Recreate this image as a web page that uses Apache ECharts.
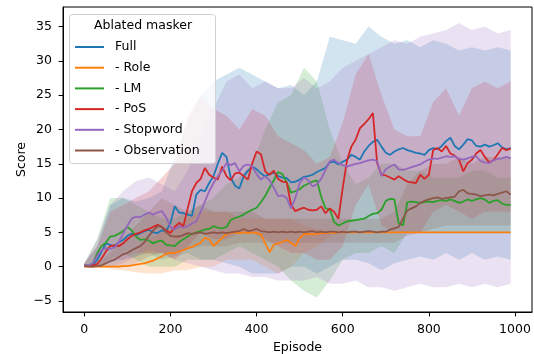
<!DOCTYPE html>
<html>
<head>
<meta charset="utf-8">
<script src="https://cdn.jsdelivr.net/npm/echarts@6/dist/echarts.min.js"></script>
<style>
  html, body { margin: 0; padding: 0; background: #fff; }
  #chart { width: 534px; height: 354px; }
</style>
</head>
<body>
<div id="chart"></div>
<script>
var names = ['Full', '- Role', '- LM', '- PoS', '- Stopword', '- Observation'];
var colors = ['#1f77b4', '#ff7f0e', '#2ca02c', '#d62728', '#9467bd', '#8c564b'];

// mean curves, one value every 10 episodes (0 .. 990)
var full = [0.2,0.1,0.3,1.0,2.2,3.4,3.2,3.0,3.6,3.9, 4.5,4.8,4.6,4.9,5.2,5.4,5.0,4.9,5.3,5.2,
  6.4,8.8,7.9,7.8,7.6,7.4,10.5,11.2,11.0,12.2, 13.2,15.0,16.6,16.0,13.0,11.8,11.4,13.2,14.0,14.6,
  14.2,13.6,13.2,13.5,13.7,13.2,13.0,12.9,12.3,12.4, 12.7,13.1,13.2,13.4,13.8,14.1,14.4,15.2,15.3,14.9,
  15.3,15.6,16.3,16.0,15.6,16.8,17.6,18.2,18.5,17.5, 16.6,16.3,16.8,17.1,17.3,17.0,16.8,16.6,16.5,16.3,
  17.0,17.3,17.1,17.6,18.3,18.8,17.6,17.1,17.8,18.6, 18.4,17.6,17.5,17.8,17.5,17.7,18.0,17.4,17.1,17.3];
var role = [0,0,0,0,0,0,0,0,0,0.1, 0.1,0.2,0.3,0.4,0.5,0.7,0.9,1.2,1.5,1.9,
  2.0,2.0,2.2,2.4,2.7,2.9,3.2,3.5,4.2,4.0, 3.0,3.6,4.2,4.8,4.9,5.0,4.9,5.0,4.9,5.0,
  4.9,4.7,3.4,2.1,3.2,3.4,3.6,3.9,3.5,3.0, 4.2,4.7,4.8,4.7,4.8,4.9,4.9,5.0,4.9,5.0,
  5,5,5,5,5,5,5,5,5,5, 5,5,5,5,5,5,5,5,5,5,
  5,5,5,5,5,5,5,5,5,5, 5,5,5,5,5,5,5,5,5,5];
var lm = [0.2,0.2,0.5,2.0,3.0,3.5,4.4,4.5,4.8,5.2, 5.8,5.3,4.4,3.9,4.0,3.8,3.4,3.7,3.8,3.2,
  3.1,3.0,3.6,4.0,4.4,4.8,5.0,5.2,5.4,5.5, 5.9,5.7,5.6,5.8,6.8,7.1,7.3,7.6,8.0,8.3,
  8.6,9.4,10.3,11.5,12.6,13.8,13.5,12.3,10.8,11.0, 11.3,11.8,12.1,12.4,12.6,10.2,8.5,8.4,6.5,6.0,
  6.3,6.6,6.7,6.8,6.9,7.0,7.4,7.7,7.8,8.3, 9.6,9.9,9.8,6.3,6.0,9.4,9.5,9.4,9.3,9.4,
  9.5,9.4,9.6,9.7,9.6,9.8,9.6,9.3,9.5,9.8, 9.6,9.8,10.0,9.8,9.3,9.6,9.7,9.2,9.0,9.0];
var pos = [0.2,0.1,0.2,0.4,1.2,2.2,3.0,3.1,3.0,3.4, 4.0,4.5,4.8,5.0,5.3,5.5,5.8,6.1,5.8,5.3,
  4.9,5.8,6.4,5.9,8.5,11.0,12.2,12.8,14.4,13.4, 13.0,12.7,14.6,13.2,12.6,13.6,13.7,13.2,12.7,15.1,
  16.8,16.4,13.9,13.4,14.0,12.8,12.4,12.3,9.0,8.1, 8.4,8.6,8.3,8.2,8.3,8.8,7.8,8.5,8.0,7.0,
  11.5,15.5,17.5,18.5,20.2,20.8,21.5,22.4,15.1,13.4, 13.3,13.0,12.7,13.2,12.8,12.4,12.3,12.2,13.4,12.8,
  13.4,17.0,17.3,16.8,17.6,16.5,16.2,15.6,13.9,15.1, 15.6,16.5,17.0,16.0,15.2,15.5,16.4,17.3,17.0,17.2];
var stopword = [0.2,0.2,0.5,1.6,2.4,2.7,2.6,2.8,3.6,4.8, 6.0,7.0,7.3,7.2,7.6,7.9,7.6,7.9,8.1,7.2,
  5.8,5.4,5.9,5.7,5.9,6.3,6.6,8.0,9.5,11.0, 12.2,13.2,14.0,15.1,14.8,15.1,13.9,14.7,14.9,14.6,
  13.5,12.7,13.2,12.6,11.5,10.3,10.4,10.0,8.5,10.0, 12.2,13.0,12.6,11.7,12.0,12.8,14.1,15.4,15.6,15.1,
  14.8,14.6,14.8,15.0,15.1,15.3,15.5,15.6,15.4,13.2, 14.2,14.6,14.9,14.2,14.1,14.3,14.5,14.7,14.9,15.3,
  15.6,15.8,15.7,15.9,16.1,16.0,16.1,15.7,15.6,15.8, 16.0,16.1,15.4,15.2,15.1,15.5,15.7,15.8,16.0,15.8];
var observation = [0.1,0,0,0.1,0.2,0.5,0.8,1.0,1.4,1.8, 2.0,2.4,2.7,3.0,3.6,4.5,5.3,5.9,5.8,5.0,
  4.5,4.4,4.4,4.6,4.9,4.8,4.9,5.0,4.8,4.9, 5.0,4.9,5.0,4.9,5.0,5.1,5.2,5.5,5.2,5.3,
  5.5,5.2,5.1,5.0,5.1,5.0,5.1,5.0,5.1,5.0, 5.1,5.0,5.1,5.2,5.0,5.1,5.0,5.1,5.1,5.0,
  5.1,5.0,5.1,5.1,5.0,5.1,5.2,5.1,5.0,5.1, 5.1,5.4,5.6,5.8,7.0,8.2,8.5,8.8,9.3,9.6,
  9.8,10.0,10.1,9.9,10.0,10.1,10.2,11.0,11.2,10.7, 10.6,10.5,10.3,10.4,10.5,10.4,10.6,10.8,11.0,10.5];

// spread bands, one value every 30 episodes (0 .. 990)
var fullLo = [0,0,0.5,1,1.5,2,1,1.5,2,1,1,0.5,0,-1,-1,-1,0,0,-1,0,1,1,0.5,-0.5,0.5,1,1.5,1,2,1,2,1,1.5,1];
var fullHi = [0.5,3,9,10,9.5,10,11,16,21,25,27,28,29,28,27,26,26.5,25,27,33.5,33,32.5,35,33.5,32.5,33,32,33,32.5,31.5,32,31.5,32,31.5];
var roleLo = [0,0,-0.3,-0.5,-0.8,-1,-1,-0.5,-0.5,0,0,1,1,1,0,-1,0,2,3,4.5,5,5,5,5,5,5,5,5,5,5,5,5,5,5];
var roleHi = [0.2,0.3,0.5,1,2,4,5,6,7,8,8,8,7,7,7,7,7,6,5.5,5.2,5,5,5,5,5,5,5,5,5,5,5,5,5,5];
var lmLo = [0,0,1,2,1,0,0,0,1,1,1,2,3,2,1,0,-2,-3.5,-4.5,-2,1,2,2,3,2,5,5,5,5,5,5,5,5,5];
var lmHi = [0.5,4,10,10,9,8,7,7,8,9,10,12,13,15,20,24,25,29,27,20,15,12,13,15,15,14,14,13,13,13,14,14,13,13];
var posLo = [0,0,1,1,2,2,2,1,3,5,4,4,5,5,4,3,2,2,1,1,3,9,12,6,5,5,5,8,9,8,7,8,8,8];
var posHi = [0.5,3,8,9,10,11,13,15,22,25,23,22,20,23,22,19,18,17,15,16,21,28,31,25,20,19,19,24,26,22,26,27,26,27];
var stopLo = [0,0,0,0.5,1.5,2.5,2,1,0.5,0,-0.5,-1,-1,-1.5,-1.5,-2,-2,-2,-1.5,-2.5,-2.5,-2,-3,-3,-3.5,-3,-2.5,-3,-3,-2.5,-3,-2.5,-3,-2.5];
var stopHi = [0.5,4,9,11,12.5,13,12,11,14,19,23,27,28,26,27,26,26,27.5,26,27,29,30,31,32,33,32.5,33.5,34,34.5,35.5,34.5,35,34,34.5];
var obsLo = [0,0,0,0,0.5,1.5,2,2,2.5,3,3,3,3.5,3.5,3.5,3.5,3.5,3.5,3.5,3.5,3.5,3.5,3.5,3.5,3.5,4.5,5,5.5,6,6,6,6,6,6];
var obsHi = [0.3,0.5,2,4,6,8,10,9,8,9,8,8,8,8,7,7,7,7,7,7,7,7,7,7,8,12,14,15,15,16,15,16,16,16];

var xTicks = [0, 200, 400, 600, 800, 1000];
var yTicks = [-5, 0, 5, 10, 15, 20, 25, 30, 35];

var means = [full, role, lm, pos, stopword, observation];
var bands = [[fullLo, fullHi], [roleLo, roleHi], [lmLo, lmHi], [posLo, posHi], [stopLo, stopHi], [obsLo, obsHi]];

function epochs(step, n) {
  var e = [];
  for (var i = 0; i < n; i++) e.push(i * step);
  return e;
}
var lineEp = epochs(10, 100);
var bandEp = epochs(30, 34);

var myChart = echarts.init(document.getElementById('chart'));
var font = 'DejaVu Sans';
var series = [];

bands.forEach(function (b, i) {
  series.push({
    type: 'custom',
    name: names[i] + ' band',
    silent: true,
    z: 1,
    clip: true,
    data: [0],
    renderItem: function (params, api) {
      var pts = [];
      for (var k = 0; k < bandEp.length; k++) pts.push(api.coord([bandEp[k], b[1][k]]));
      for (var k = bandEp.length - 1; k >= 0; k--) pts.push(api.coord([bandEp[k], b[0][k]]));
      return { type: 'polygon', shape: { points: pts }, style: { fill: colors[i], opacity: 0.2 } };
    }
  });
});

means.forEach(function (m, i) {
  series.push({
    type: 'line',
    name: names[i],
    z: 3,
    symbol: 'none',
    showSymbol: false,
    lineStyle: { color: colors[i], width: 1.8 },
    itemStyle: { color: colors[i] },
    data: m.map(function (v, k) { return [lineEp[k], v]; })
  });
});

var option = {
  animation: false,
  grid: {
    left: 63, right: 2, top: 7, bottom: 42,
    outerBoundsMode: 'none', containLabel: false,
    show: true, borderColor: '#000', borderWidth: 1
  },
  xAxis: {
    type: 'value', min: -49.5, max: 1039.5,
    name: 'Episode', nameLocation: 'middle', nameGap: 29,
    nameTextStyle: { fontFamily: font, fontSize: 12.5, color: '#000' },
    axisLine: { show: true, onZero: false, lineStyle: { color: '#000', width: 1 } },
    axisTick: { show: true, length: 4.4, customValues: xTicks, lineStyle: { color: '#000' } },
    axisLabel: {
      customValues: xTicks, margin: 11, fontFamily: font, fontSize: 12.5, color: '#000',
      formatter: function (v) { return String(v); }
    },
    splitLine: { show: false }
  },
  yAxis: {
    type: 'value', min: -6.6, max: 37.85,
    name: 'Score', nameLocation: 'middle', nameGap: 35, nameMoveOverlap: false,
    nameTextStyle: { fontFamily: font, fontSize: 12.5, color: '#000' },
    axisLine: { show: true, onZero: false, lineStyle: { color: '#000', width: 1 } },
    axisTick: { show: true, length: 4.4, customValues: yTicks, lineStyle: { color: '#000' } },
    axisLabel: {
      customValues: yTicks, margin: 11, fontFamily: font, fontSize: 12.5, color: '#000',
      formatter: function (v) { return String(v).replace('-', '\u2212'); }
    },
    splitLine: { show: false }
  },
  legend: {
    data: names,
    orient: 'vertical',
    left: 75, top: 40,
    padding: 0,
    z: 20,
    icon: 'rect',
    itemWidth: 29, itemHeight: 2,
    itemGap: 6.7,
    textStyle: { fontFamily: font, fontSize: 12.5, color: '#000', lineHeight: 14, padding: [0, 0, 0, 6] }
  },
  graphic: [
    {
      type: 'rect', z: 15,
      shape: { x: 69.5, y: 14.5, width: 146, height: 149, r: 3 },
      style: { fill: 'rgba(255,255,255,0.8)', stroke: '#d0d0d0', lineWidth: 1 }
    },
    {
      type: 'text', z: 16,
      x: 143, y: 26,
      style: { text: 'Ablated masker', fontFamily: font, fontSize: 12.5, fill: '#000', align: 'center', verticalAlign: 'middle' }
    }
  ],
  series: series
};
myChart.setOption(option);
</script>
</body>
</html>
